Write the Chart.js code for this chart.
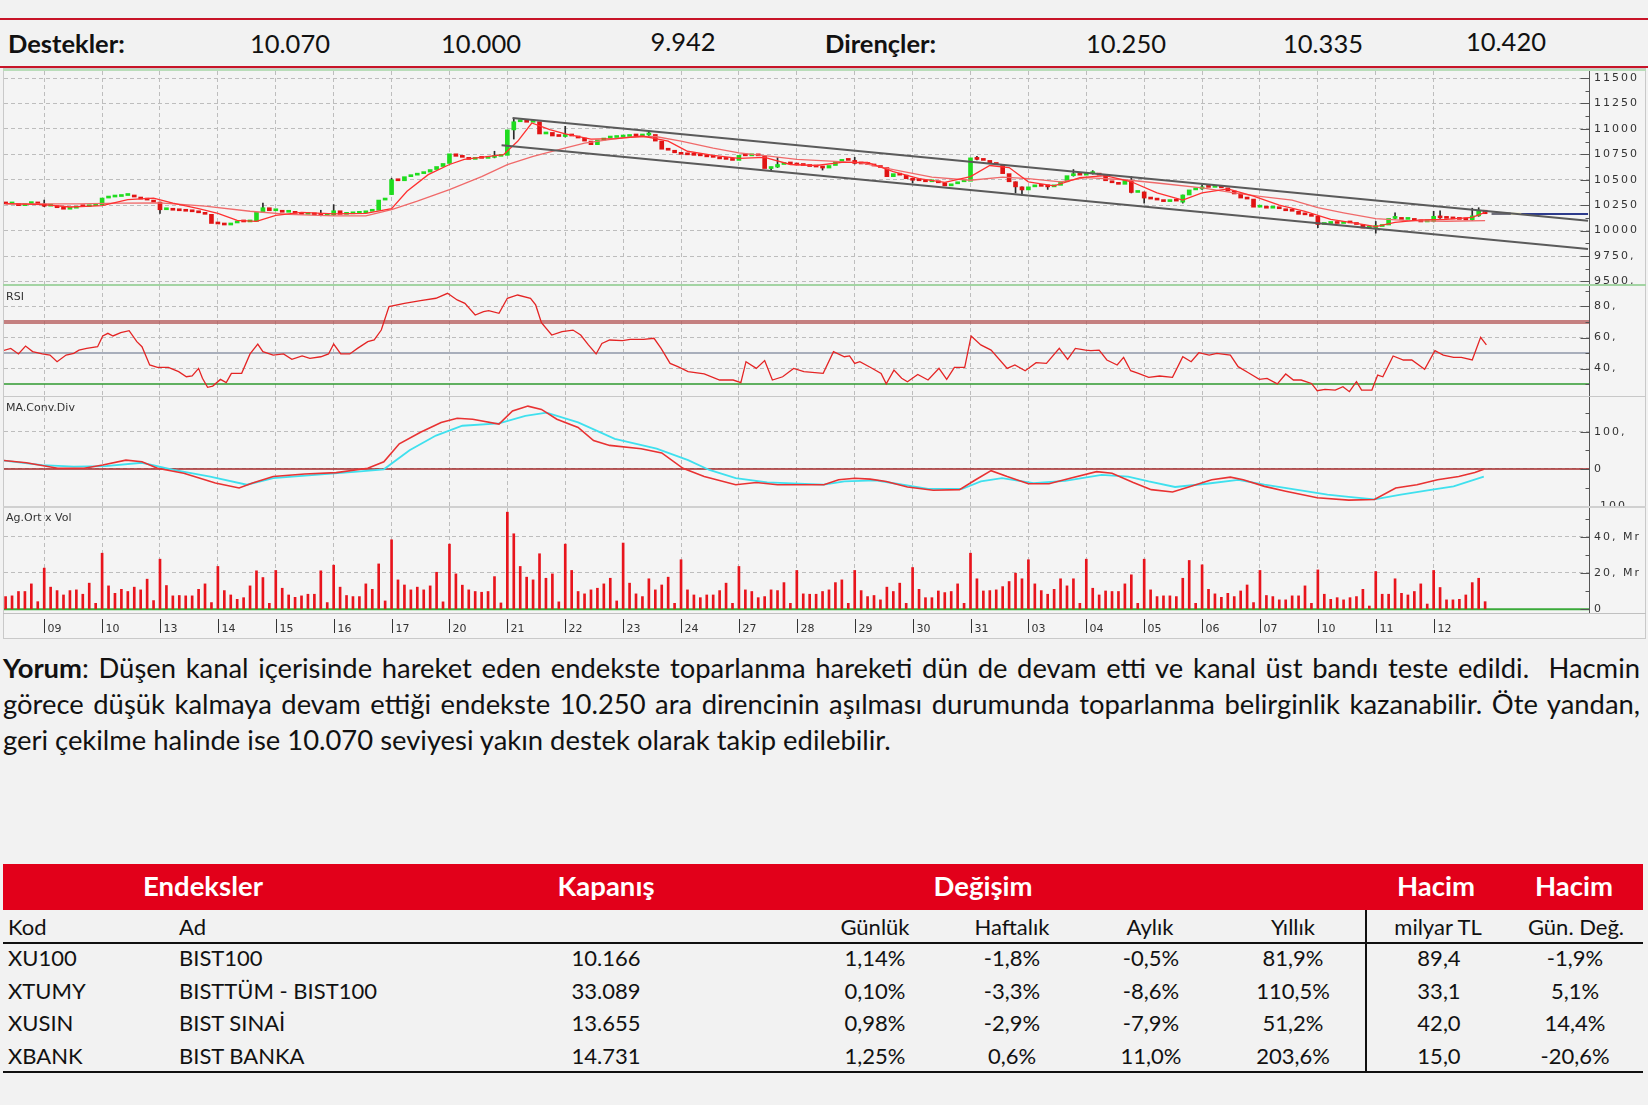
<!DOCTYPE html>
<html lang="tr"><head><meta charset="utf-8">
<title>BIST100 Teknik Görünüm</title>
<script src="https://cdn.jsdelivr.net/npm/chart.js@4.4.1/dist/chart.umd.min.js"></script>
<style>
*{box-sizing:border-box}
html,body{margin:0;padding:0;background:#f2f2f2}
#page{position:relative;width:1648px;height:1105px;overflow:hidden;font-family:Lato,"Noto Sans",sans-serif;color:#111}
.a{position:absolute;white-space:nowrap;line-height:1}
.cc{transform:translate(-50%,-50%)}
.lc{transform:translateY(-50%)}
.red{position:absolute;left:0;width:1648px;height:2px;background:#c81428}
.hdr{font-size:25.5px}
.b{font-weight:700}
#chartbox{position:absolute;left:3px;top:68px;width:1643px;height:571px;background:#f4f4f4;border:1px solid #c9c9c9}
canvas{position:absolute;left:4px}
.sep{position:absolute;left:3px;width:1643px}
.ptitle{position:absolute;left:6px;font:11px "DejaVu Sans",sans-serif;color:#333;line-height:1}
.para{position:absolute;left:3px;top:650px;width:1637px;font-size:27.4px;color:#111}
.pl{height:35.8px;line-height:35.8px;text-align:justify;white-space:normal}
.pl.j{text-align-last:justify}
.tt{font-size:22px}
.th{font-size:27.5px;font-weight:700;color:#fff}
</style></head>
<body>
<div id="page">
<div class="red" style="top:18px"></div>
<div class="red" style="top:66px"></div>
<div id="chartbox"></div>
<div class="sep" style="top:69px;height:2px;background:#b9ddb9"></div>
<div class="sep" style="top:284px;height:2px;background:#a3d4a3"></div>
<div class="sep" style="top:396px;height:1px;background:#c8c8c8"></div>
<div class="sep" style="top:506px;height:2px;background:#d0d0d0"></div>
<div class="sep" style="top:613px;height:1px;background:#c0c0c0"></div>
<canvas id="cPrice" width="1641" height="213" style="top:71px"></canvas>
<canvas id="cRsi" width="1641" height="110" style="top:286px"></canvas>
<canvas id="cMacd" width="1641" height="109" style="top:397px"></canvas>
<canvas id="cVol" width="1641" height="130" style="top:508px"></canvas>
<div class="ptitle" style="top:291px">RSI</div>
<div class="ptitle" style="top:402px">MA.Conv.Div</div>
<div class="ptitle" style="top:512px">Ag.Ort x Vol</div>
<div class="para">
 <div class="pl j"><b>Yorum</b>: Düşen kanal içerisinde hareket eden endekste toparlanma hareketi dün de devam etti ve kanal üst bandı teste edildi.&nbsp; Hacmin</div>
 <div class="pl j">görece düşük kalmaya devam ettiği endekste 10.250 ara direncinin aşılması durumunda toparlanma belirginlik kazanabilir. Öte yandan,</div>
 <div class="pl">geri çekilme halinde ise 10.070 seviyesi yakın destek olarak takip edilebilir.</div>
</div>
</div>
<script>
// ---------------- DATA ----------------
const supports = ['10.070', '10.000', '9.942'];
const resistances = ['10.250', '10.335', '10.420'];

const dayLabels = ['09','10','13','14','15','16','17','20','21','22','23','24','27','28','29','30','31','03','04','05','06','07','10','11','12'];
const dayStarts = [0,9,18,27,36,45,54,63,72,81,90,99,108,117,126,135,144,153,162,171,180,189,198,207,216];
const FIRST_BAR = -6;

const candleOpen = [
 10270,10262,10268,10245,10265,10270,
 10262,10240,10245,10225,10210,10220,10240,10235,10245,
 10250,10320,10330,10335,10345,10350,10330,10310,10300,
 10280,10205,10215,10200,10195,10190,10185,10175,10160,
 10070,10065,10055,10075,10085,10085,10090,10180,10225,
 10195,10200,10180,10185,10170,10160,10162,10155,10150,
 10155,10195,10160,10165,10170,10175,10190,10200,10300,
 10354,10500,10490,10530,10545,10560,10575,10600,10630,
 10660,10755,10730,10720,10700,10715,10710,10720,10730,
 10740,10990,11070,11080,11065,11070,10950,10965,10930,
 10925,10935,10930,10910,10880,10845,10890,10910,10915,
 10920,10925,10935,10930,10940,10945,10880,10800,10790,
 10765,10750,10745,10740,10735,10725,10720,10705,10700,
 10690,10740,10735,10745,10735,10610,10625,10650,10660,
 10655,10645,10640,10630,10625,10615,10640,10680,10700,
 10690,10660,10655,10650,10635,10620,10530,10560,10545,
 10510,10495,10490,10480,10485,10470,10440,10460,10480,
 10485,10715,10700,10690,10660,10650,10560,10480,10430,
 10400,10430,10440,10435,10430,10445,10480,10540,10550,
 10545,10560,10565,10545,10490,10470,10455,10495,10375,
 10380,10320,10310,10300,10285,10295,10280,10350,10400,
 10410,10430,10425,10435,10420,10390,10360,10320,10310,
 10230,10235,10220,10230,10215,10195,10190,10160,10155,
 10140,10060,10070,10075,10070,10080,10075,10060,10025,
 10030,10040,10055,10120,10125,10110,10115,10100,10085,
 10090,10140,10125,10120,10115,10110,10105,10145,10200
];
const candleClose = [
 10262,10268,10245,10265,10270,10262,
 10240,10245,10225,10210,10220,10240,10235,10245,10250,
 10320,10330,10335,10345,10350,10330,10310,10300,10280,
 10205,10215,10200,10195,10190,10185,10175,10160,10070,
 10065,10055,10075,10085,10085,10090,10180,10225,10195,
 10200,10180,10185,10170,10160,10162,10155,10150,10155,
 10195,10160,10165,10170,10175,10190,10200,10300,10320,
 10500,10490,10530,10545,10560,10575,10600,10630,10660,
 10755,10730,10720,10700,10715,10710,10720,10730,10740,
 10990,11070,11080,11065,11070,10950,10965,10930,10925,
 10935,10930,10910,10880,10845,10890,10910,10915,10920,
 10925,10935,10930,10940,10945,10880,10800,10790,10765,
 10750,10745,10740,10735,10725,10720,10705,10700,10690,
 10740,10735,10745,10735,10610,10625,10650,10660,10655,
 10645,10640,10630,10625,10615,10640,10680,10700,10690,
 10660,10655,10650,10635,10620,10530,10560,10545,10510,
 10495,10490,10480,10485,10470,10440,10460,10480,10485,
 10715,10700,10690,10660,10650,10560,10480,10430,10400,
 10430,10440,10435,10430,10445,10480,10540,10550,10545,
 10560,10565,10545,10490,10470,10455,10495,10375,10380,
 10320,10310,10300,10285,10295,10290,10350,10400,10410,
 10430,10425,10435,10420,10390,10360,10320,10310,10230,
 10235,10220,10230,10215,10195,10190,10160,10155,10140,
 10060,10070,10075,10070,10080,10075,10060,10025,10030,
 10040,10055,10120,10125,10110,10115,10100,10085,10090,
 10140,10125,10120,10115,10110,10105,10145,10200,10166
];
// [bar, low, high]
const candleWicks = [
 [0,10235,10300],[18,10170,10280],[34,10180,10270],[43,10145,10200],[45,10150,10255],
 [54,10354,10515],[70,10715,10780],[73,10900,11100],[81,10920,11025],[94,10935,10980],
 [113,10590,10625],[114,10620,10720],[121,10595,10625],[126,10655,10720],[135,10470,10510],
 [145,10695,10730],[151,10370,10480],[152,10345,10430],[156,10405,10440],[160,10535,10600],
 [163,10555,10590],[169,10370,10530],[171,10270,10380],[177,10270,10350],[180,10405,10450],
 [198,10030,10140],[207,9975,10090],[210,10115,10175],[216,10085,10190],[217,10120,10195],
 [222,10100,10220],[223,10140,10225]
];
const maFast = [
 [-6,10265],[0,10255],[4,10232],[9,10245],[13,10305],[17,10320],[20,10270],[24,10215],[27,10170],
 [30,10100],[33,10090],[36,10150],[40,10180],[45,10165],[50,10170],[54,10215],[56.4,10386],
 [59.7,10550],[63,10650],[65.3,10700],[71.4,10747],[73.6,10878],[75.8,11058],[78.6,10992],
 [81,10950],[85,10900],[89,10905],[93,10930],[97,10880],[100,10780],[104,10740],[108,10710],
 [112,10720],[116,10650],[120,10640],[124,10670],[128,10670],[132,10580],[136,10510],[140,10475],
 [144,10530],[147,10640],[150,10620],[153,10480],[157,10440],[161,10520],[165,10540],[169,10480],
 [173,10370],[177,10300],[180,10370],[184,10410],[188,10340],[192,10250],[196,10190],[200,10110],
 [204,10070],[207,10040],[210,10080],[214,10105],[218,10110],[222,10130],[224,10180]
];
const maSlow = [
 [-6,10262],[5,10262],[12,10270],[18,10272],[25,10240],[32,10190],[38,10160],[45,10145],[50,10145],
 [54,10206],[58,10290],[63,10403],[68,10530],[72,10648],[76,10730],[80,10796],[84,10860],[90,10915],
 [95,10925],[99,10880],[104,10810],[108,10765],[113,10730],[117,10700],[123,10680],[127,10665],
 [132,10600],[138,10525],[144,10495],[149,10525],[153,10510],[158,10480],[162,10520],[168,10500],
 [173,10468],[180,10420],[185,10370],[189,10337],[194,10300],[198,10225],[202,10175],[207,10118],
 [212,10098],[218,10092],[224,10098]
];
const channelUpper = [[72.8,11107],[240,10097]];
const channelLower = [[71.1,10838],[240,9819]];
const lastGrey = [[225,10166],[228,10166]];
const lastYellow = [[228,10166],[229.6,10166]];
const lastLevel = [[229.6,10163],[240,10163]];
const priceTicks = [9500,9750,10000,10250,10500,10750,11000,11250,11500];
const priceTickLabels = ['9500,','9750,','10000','10250','10500','10750','11000','11250','11500'];
const priceMinor = [9625,9875,10125,10375,10625,10875,11125,11375];

const rsiPoints = [
 [-6.85,50.9],[-5.2,53.0],[-4.0,49.4],[-2.9,54.5],[-1.8,50.9],[-0.3,49.4],[0.9,48.7],[2.0,44.4],
 [3.4,48.7],[4.6,49.8],[5.4,51.9],[6.6,53.0],[8.3,54.1],[9.1,61.0],[9.9,62.7],[10.7,61.0],[11.9,63.1],
 [13.2,64.4],[14.4,57.3],[15.2,54.1],[16.4,42.3],[17.6,40.8],[19.3,40.8],[20.9,38.0],[22.1,34.7],
 [23.0,35.2],[24.0,40.1],[24.6,33.7],[25.4,27.9],[26.2,28.7],[27.4,33.0],[28.3,30.9],[29.1,36.9],
 [30.7,36.9],[32.0,49.4],[33.2,55.8],[34.0,50.9],[35.6,48.7],[37.2,49.4],[38.5,45.9],[40.1,48.1],
 [41.3,46.6],[43.0,47.6],[44.2,49.4],[45.0,55.8],[46.1,49.4],[47.5,49.4],[48.7,53.0],[50.3,57.3],
 [51.3,58.4],[52.4,64.8],[53.6,79.9],[56.0,82.0],[58.5,83.8],[60.9,85.3],[62.7,88.5],[64.2,84.2],
 [65.4,82.0],[67.0,74.5],[68.3,76.7],[69.1,77.3],[70.7,75.6],[72.0,85.3],[73.6,87.4],[75.6,85.3],
 [76.4,81.0],[77.3,69.6],[78.9,61.6],[80.5,63.8],[82.2,64.8],[83.4,61.6],[84.6,55.2],[85.8,49.4],
 [86.7,56.2],[87.9,58.4],[89.9,58.0],[91.1,58.8],[93.2,58.8],[94.8,59.5],[95.9,53.0],[97.3,43.3],
 [98.5,41.2],[100.1,38.0],[102.6,36.5],[105.0,32.6],[107.1,32.6],[108.3,30.9],[109.1,44.4],
 [110.7,40.1],[112.0,45.1],[113.2,32.6],[114.8,34.7],[116.5,40.1],[118.1,38.0],[121.1,36.9],
 [122.7,50.9],[124.4,47.6],[125.2,48.1],[126.0,43.3],[126.8,44.4],[128.4,40.8],[130.1,36.9],
 [130.9,30.1],[132.1,39.0],[133.3,33.7],[134.2,31.5],[135.8,36.2],[137.4,32.6],[139.1,40.1],
 [140.3,33.0],[141.5,40.8],[143.1,40.8],[144.1,61.0],[145.6,55.2],[147.2,51.9],[149.7,40.1],
 [150.9,42.3],[152.5,38.6],[154.2,43.8],[155.8,43.3],[157.8,53.0],[159.1,45.9],[160.3,53.0],
 [161.9,51.9],[162.7,51.5],[164.0,51.9],[165.2,45.5],[166.8,42.3],[167.8,47.2],[168.9,38.6],
 [170.1,36.9],[171.7,34.3],[173.4,35.2],[175.4,34.3],[177.0,47.6],[178.3,44.4],[179.5,50.2],
 [181.1,48.7],[182.3,49.8],[184.4,48.7],[185.6,41.2],[187.2,37.3],[188.9,33.0],[190.1,33.7],
 [191.7,30.1],[193.0,36.5],[194.2,32.6],[195.4,32.6],[197.0,30.4],[197.9,25.7],[199.1,26.6],
 [200.7,26.1],[201.9,28.3],[202.9,25.1],[204.0,31.5],[204.8,26.1],[206.4,26.1],[207.3,35.8],
 [208.1,34.7],[209.7,48.1],[211.3,45.5],[212.6,45.5],[214.6,39.5],[216.2,51.5],[217.5,48.7],
 [219.1,47.2],[220.3,47.2],[222.0,45.5],[223.3,60.1],[224.2,55.2]
];
const rsiTicks = [40,60,80];
const rsiTickLabels = ['40,','60,','80,'];
const rsiMinor = [30,50,70,90];
const rsiLevels = [70,50,30];

const macdPoints = [
 [-6.85,23.7],[-2.8,16.7],[2.1,1.8],[6.2,1.8],[9.1,10.5],[12.7,23.7],[15.2,19.3],[17.6,1.8],
 [21.7,-11.4],[26.6,-37.7],[30.3,-50.9],[32.4,-37.7],[35.6,-20.2],[40.5,-13.2],[45.4,-9.6],
 [50.3,1.8],[52.8,19.3],[55.2,67.5],[58.5,98.2],[61.7,124.6],[64.2,136.0],[66.6,133.3],
 [70.7,120.2],[72.8,155.3],[75.2,168.4],[77.3,159.6],[79.7,133.3],[83.0,111.4],[85.4,76.3],
 [87.9,63.2],[92.8,54.4],[96.0,43.0],[99.3,1.8],[102.6,-20.2],[107.5,-42.1],[110.7,-36.0],
 [114.0,-42.1],[121.2,-42.1],[123.5,-28.9],[126.0,-24.6],[128.4,-27.2],[130.9,-33.3],
 [134.2,-48.2],[138.2,-57.0],[142.3,-55.3],[144.8,-28.9],[147.2,-4.4],[149.7,-20.2],
 [153.0,-39.5],[156.2,-39.5],[159.5,-24.6],[163.6,-7.0],[166.0,-11.4],[169.3,-35.9],
 [172.1,-55.3],[175.4,-61.4],[178.3,-46.5],[181.5,-28.9],[184.4,-21.9],[186.4,-28.9],
 [189.7,-46.5],[193.0,-59.6],[197.9,-77.2],[202.8,-83.3],[206.8,-81.6],[210.1,-50.9],
 [213.4,-42.1],[216.6,-28.9],[219.9,-20.2],[222.4,-9.6],[223.8,-0.9]
];
const signalPoints = [
 [-6.85,23.7],[-0.3,10.5],[4.6,6.1],[9.5,7.9],[15.2,16.7],[20.1,-2.6],[25.8,-20.2],[31.5,-42.1],
 [35.6,-24.6],[42.1,-15.8],[48.7,-7.0],[52.8,-0.9],[56.8,50.0],[60.9,89.5],[65.0,115.8],
 [70.7,121.9],[74.8,142.1],[78.1,150.9],[83.0,124.6],[88.7,80.7],[95.2,54.4],[100.1,23.7],
 [103.4,-2.6],[107.5,-24.6],[112.4,-36.0],[121.2,-42.1],[124.4,-33.3],[129.3,-30.7],
 [132.5,-39.5],[137.4,-53.5],[142.7,-53.5],[145.6,-33.3],[148.9,-24.6],[153.8,-37.7],
 [158.7,-31.6],[164.4,-15.8],[168.5,-20.2],[171.7,-33.3],[175.8,-48.2],[180.7,-39.5],
 [185.6,-28.9],[189.7,-42.1],[194.6,-55.3],[199.5,-68.4],[202.8,-74.6],[206.8,-81.6],
 [210.9,-68.4],[215.8,-55.3],[219.1,-46.5],[223.8,-20.2]
];
const macdTicks = [-100,0,100];
const macdTickLabels = ['-100,','0','100,'];
const macdMinor = [-50,50,150];
const macdLevels = [0];

// volume, milyar TL (Mr), one per bar starting at FIRST_BAR
const volume = [
 7.0,7.4,9.8,9.8,14.0,4.2,
 22.7,12.2,10.3,7.9,10.3,10.7,8.3,14.4,3.3,
 30.9,12.9,8.8,11.0,9.8,12.2,10.7,16.6,4.8,
 27.6,13.1,7.4,7.6,7.4,7.4,11.0,14.0,3.7,
 23.6,10.3,7.9,5.5,6.4,12.9,21.2,17.5,3.3,
 21.4,11.6,7.9,6.6,7.4,8.3,8.3,21.2,3.7,
 24.3,12.2,7.6,7.0,7.0,14.0,11.0,25.0,4.6,
 38.3,16.2,13.4,10.7,12.2,10.7,12.9,20.4,4.1,
 35.9,19.5,13.3,10.7,9.8,9.4,9.8,18.0,3.5,
 53.5,41.6,23.6,17.7,16.2,30.6,17.1,19.5,4.1,
 35.9,21.4,9.8,8.5,10.7,11.6,14.0,17.1,4.6,
 36.5,14.4,8.5,7.0,16.8,10.7,13.4,17.7,3.3,
 27.3,10.7,7.9,6.4,7.9,7.9,10.3,14.4,3.3,
 23.6,10.7,9.8,6.4,7.0,10.7,10.3,14.7,3.3,
 21.4,8.5,8.3,8.3,9.8,10.7,14.7,16.2,3.3,
 21.4,10.3,7.0,7.6,5.2,12.2,9.8,14.4,3.3,
 23.0,11.0,6.4,6.4,10.1,9.2,9.8,14.0,3.3,
 30.9,16.8,10.1,10.3,10.7,12.5,15.3,19.9,16.8,
 27.3,14.0,10.3,8.3,11.0,16.8,12.9,16.8,3.3,
 27.6,11.6,7.9,10.1,9.8,9.8,14.0,19.0,3.3,
 27.6,10.7,7.0,7.4,7.4,7.0,17.1,26.9,3.3,
 24.5,11.0,8.5,6.6,8.8,7.0,10.1,13.4,3.7,
 21.4,7.6,7.0,5.2,5.2,7.4,7.4,12.9,3.3,
 21.7,8.3,5.5,6.4,5.2,6.4,7.0,11.0,1.8,
 20.8,8.3,8.3,16.8,8.8,7.9,9.8,14.0,2.9,
 21.4,12.0,5.2,5.2,5.5,7.9,14.7,17.1,4.2
];
const volTicks = [0,20,40];
const volTickLabels = ['0','20, Mr','40, Mr'];
const volMinor = [10,30,50];
const volLevels = [0];

const tblGroups = ['Endeksler','Kapanış','Değişim','Hacim','Hacim'];
const tblSub = ['Kod','Ad','Günlük','Haftalık','Aylık','Yıllık','milyar TL','Gün. Değ.'];
const tblCode = ['XU100','XTUMY','XUSIN','XBANK'];
const tblName = ['BIST100','BISTTÜM - BIST100','BIST SINAİ','BIST BANKA'];
const tblClose = ['10.166','33.089','13.655','14.731'];
const tblDaily = ['1,14%','0,10%','0,98%','1,25%'];
const tblWeekly = ['-1,8%','-3,3%','-2,9%','0,6%'];
const tblMonthly = ['-0,5%','-8,6%','-7,9%','11,0%'];
const tblYearly = ['81,9%','110,5%','51,2%','203,6%'];
const tblVolume = ['89,4','33,1','42,0','15,0'];
const tblVolChg = ['-1,9%','5,1%','14,4%','-20,6%'];

// ---------------- TEXT LAYOUT ----------------
const page = document.getElementById('page');
function put(txt, x, y, cls, center) {
  const d = document.createElement('div');
  d.className = 'a ' + (center ? 'cc ' : 'lc ') + cls;
  d.style.left = x + 'px'; d.style.top = y + 'px';
  d.textContent = txt; page.appendChild(d); return d;
}
put('Destekler:', 8, 44, 'hdr b', false);
[[290,44],[481,44],[683,42]].forEach((p,i) => put(supports[i], p[0], p[1], 'hdr', true));
put('Dirençler:', 825, 44, 'hdr b', false);
[[1126,44],[1323,44],[1506,42]].forEach((p,i) => put(resistances[i], p[0], p[1], 'hdr', true));

function box(x, y, w, h, bg) {
  const d = document.createElement('div');
  d.style.cssText = `position:absolute;left:${x}px;top:${y}px;width:${w}px;height:${h}px;background:${bg}`;
  page.appendChild(d);
}
box(3, 864, 1640, 46, '#e2001a');
box(3, 942, 1640, 2, '#111');
box(3, 1071, 1640, 2, '#111');
box(1365, 910, 2, 162, '#111');
[203, 606, 983, 1436, 1574].forEach((x,i) => put(tblGroups[i], x, 886, 'th', true));
put(tblSub[0], 8, 927, 'tt', false);
put(tblSub[1], 179, 927, 'tt', false);
[875, 1012, 1150, 1293, 1438, 1576].forEach((x,i) => put(tblSub[i+2], x, 927, 'tt', true));
const rowY = [958, 990.5, 1023, 1055.5];
const cols = [tblClose, tblDaily, tblWeekly, tblMonthly, tblYearly, tblVolume, tblVolChg];
const colX = [606, 875, 1012, 1151, 1293, 1439, 1575];
rowY.forEach((y, r) => {
  put(tblCode[r], 8, y, 'tt', false);
  put(tblName[r], 179, y, 'tt', false);
  cols.forEach((c, k) => put(c[r], colX[k], y, 'tt', true));
});

// ---------------- CHARTS ----------------
const X_MIN = -6.25, X_MAX = 240.15;
const GRID = '#bdbdbd';
const UP = '#1fdc1f', DOWN = '#e01414';

const decor = {
  id: 'decor',
  beforeDraw(chart) { chart.ctx.letterSpacing = '2px'; },
  beforeDatasetsDraw(chart, args, o) {
    const {ctx, chartArea: a, scales: {y}} = chart;
    (o.levels || []).forEach(L => {
      const py = y.getPixelForValue(L.v);
      ctx.save(); ctx.strokeStyle = L.color; ctx.lineWidth = L.w;
      ctx.beginPath(); ctx.moveTo(a.left, py); ctx.lineTo(a.right, py); ctx.stroke(); ctx.restore();
    });
  },
  afterDraw(chart, args, o) {
    const {ctx, chartArea: a, scales: {x, y}} = chart;
    ctx.save();
    ctx.strokeStyle = '#555'; ctx.lineWidth = 1;
    const ax = Math.round(a.right) + 0.5;
    ctx.beginPath(); ctx.moveTo(ax, a.top); ctx.lineTo(ax, a.bottom); ctx.stroke();
    (o.major || []).forEach(v => {
      const py = Math.round(y.getPixelForValue(v)) + 0.5;
      ctx.beginPath(); ctx.moveTo(ax - 9, py); ctx.lineTo(ax, py); ctx.stroke();
    });
    (o.minor || []).forEach(v => {
      const py = Math.round(y.getPixelForValue(v)) + 0.5;
      ctx.beginPath(); ctx.moveTo(ax - 4, py); ctx.lineTo(ax, py); ctx.stroke();
    });
    if (o.xLabels) {
      ctx.letterSpacing = '0px';
      ctx.strokeStyle = '#333'; ctx.fillStyle = '#333';
      ctx.font = '11px "DejaVu Sans"'; ctx.textBaseline = 'middle'; ctx.textAlign = 'left';
      dayStarts.forEach((v, k) => {
        const px = Math.round(x.getPixelForValue(v)) + 0.5;
        ctx.beginPath(); ctx.moveTo(px, a.bottom + 6); ctx.lineTo(px, a.bottom + 20); ctx.stroke();
        ctx.fillText(dayLabels[k], px + 3, a.bottom + 16);
      });
    }
    ctx.restore();
  }
};

function xAxis() {
  return {
    type: 'linear', min: X_MIN, max: X_MAX, offset: false,
    afterBuildTicks: ax => { ax.ticks = dayStarts.map(v => ({value: v})); },
    afterFit: ax => { ax.height = 0; ax.paddingLeft = 0; ax.paddingRight = 0; },
    ticks: {display: false},
    grid: {color: GRID, lineWidth: 1, drawTicks: false, offset: false},
    border: {display: false, dash: [4, 3]}
  };
}
function yAxis(min, max, ticks, labels) {
  return {
    type: 'linear', position: 'right', min, max,
    afterFit: ax => { ax.width = 56; ax.paddingTop = 0; ax.paddingBottom = 0; },
    afterBuildTicks: ax => { ax.ticks = ticks.map(v => ({value: v})); },
    ticks: {autoSkip: false, callback: (v, i) => labels[i], font: {family: 'DejaVu Sans', size: 11}, color: '#333', padding: 5},
    grid: {color: GRID, drawTicks: false},
    border: {display: false, dash: [4, 3]}
  };
}
function opts(yMin, yMax, ticks, labels, d, padBottom) {
  return {
    responsive: false, animation: false, events: [],
    layout: {padding: {left: 0, right: 0, top: 0, bottom: padBottom || 0}},
    plugins: {legend: {display: false}, tooltip: {enabled: false}, decor: d},
    scales: {x: xAxis(), y: yAxis(yMin, yMax, ticks, labels)}
  };
}
const pts = arr => arr.map(p => ({x: p[0], y: p[1]}));
const lineDs = (data, color, w, order) => ({type: 'line', data: pts(data), borderColor: color, borderWidth: w, pointRadius: 0, tension: 0, fill: false, order});

new Chart(document.getElementById('cPrice'), {
  type: 'bar',
  data: {datasets: [
    lineDs(channelUpper, '#5a5a5a', 2, 0),
    lineDs(channelLower, '#5a5a5a', 2, 0),
    lineDs(lastGrey, '#6d6d7a', 2.5, 0),
    lineDs(lastYellow, '#f2efb0', 2, 0),
    lineDs(lastLevel, '#2d3b8c', 2, 0),
    lineDs(maFast, '#ff3030', 1.3, 1),
    lineDs(maSlow, '#f06a6a', 1.3, 1),
    {type: 'bar', data: candleOpen.map((o, i) => ({x: FIRST_BAR + i, y: [o, candleClose[i]]})),
     backgroundColor: candleOpen.map((o, i) => candleClose[i] > o ? UP : DOWN),
     barThickness: 4, minBarLength: 2, grouped: false, order: 2},
    {type: 'bar', data: candleWicks.map(w => ({x: w[0], y: [w[1], w[2]]})),
     backgroundColor: '#2a2a2a', barThickness: 1, grouped: false, order: 3}
  ]},
  options: opts(9475, 11569, priceTicks, priceTickLabels, {major: priceTicks, minor: priceMinor}),
  plugins: [decor]
});

new Chart(document.getElementById('cRsi'), {
  type: 'line',
  data: {datasets: [lineDs(rsiPoints, '#e42424', 1.3, 0)]},
  options: opts(22.3, 93.2, rsiTicks, rsiTickLabels, {
    major: rsiTicks, minor: rsiMinor,
    levels: [{v: rsiLevels[0], color: 'rgba(180,90,90,0.75)', w: 4}, {v: rsiLevels[1], color: '#a8aebb', w: 2}, {v: rsiLevels[2], color: '#2f9a2f', w: 1.5}]
  }),
  plugins: [decor]
});

new Chart(document.getElementById('cMacd'), {
  type: 'line',
  data: {datasets: [lineDs(signalPoints, '#3fe0ee', 1.8, 1), lineDs(macdPoints, '#e83232', 1.6, 0)]},
  options: opts(-99.1, 192.8, macdTicks, macdTickLabels, {
    major: macdTicks, minor: macdMinor, levels: [{v: macdLevels[0], color: '#a52a2a', w: 1.5}]
  }),
  plugins: [decor]
});

new Chart(document.getElementById('cVol'), {
  type: 'bar',
  data: {datasets: [{data: volume.map((v, i) => ({x: FIRST_BAR + i, y: v})), backgroundColor: '#e8141c', barThickness: 2, grouped: false}]},
  options: opts(-2.04, 55.8, volTicks, volTickLabels, {
    major: volTicks, minor: volMinor, levels: [{v: volLevels[0], color: '#3aaa3a', w: 2}], xLabels: true
  }, 25),
  plugins: [decor]
});
</script>
</body></html>
